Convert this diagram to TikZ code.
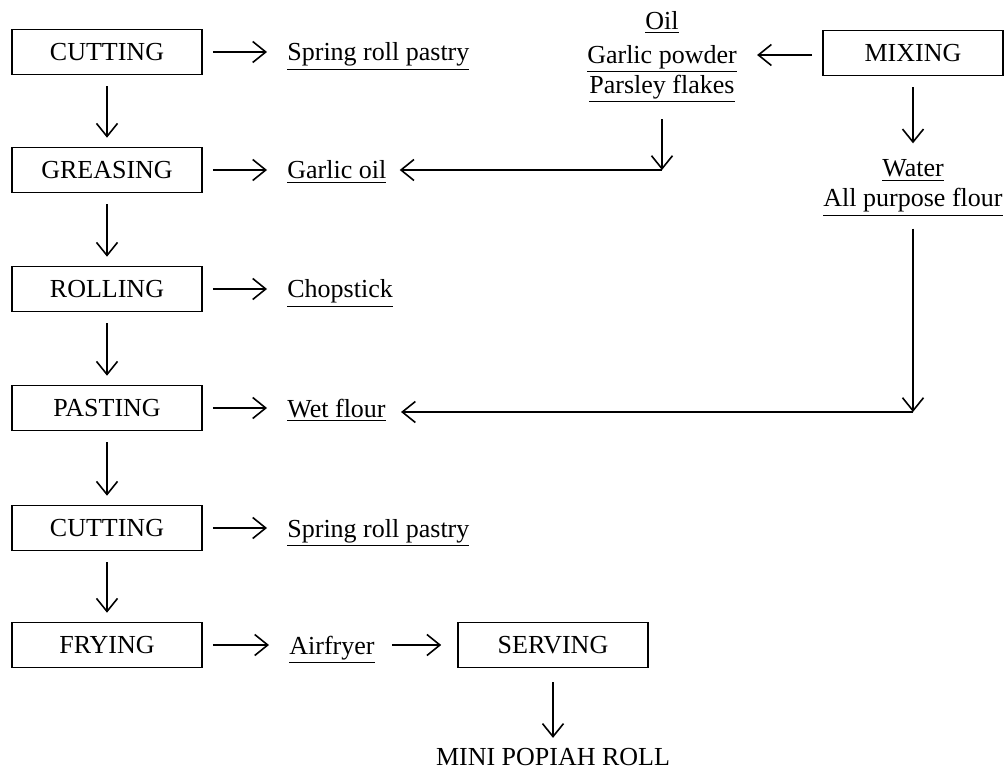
\documentclass[tikz,border=0pt]{standalone}
\usepackage{fontspec}
\setmainfont{Liberation Serif}
\usepackage{tikz}
\usetikzlibrary{arrows.meta}
\usetikzlibrary{positioning}

\tikzset{
	stage/.style = {draw, line width=0.8pt, minimum width=95pt, minimum height=22.5pt, inner sep=0pt},
	item/.style = {inner sep=0pt, align=center},
	flow/.style = {-{Straight Barb[length=6.5pt,width=10.5pt,line width=0.8pt]}, line width=0.8pt},
}

\begin{document}
\begin{tikzpicture}[x=0.5pt, y=-0.5pt, font=\fontsize{13}{15}\selectfont]
		\useasboundingbox (0,0) rectangle (1007,775);
		% main line
		\node[stage] (cut1) at (107,52) {CUTTING};
		\node[stage] (greas) at (107,170) {GREASING};
		\node[stage] (roll) at (107,289) {ROLLING};
		\node[stage] (paste) at (107,408) {PASTING};
		\node[stage] (cut2) at (107,528) {CUTTING};
		\node[stage] (fry) at (107,645) {FRYING};
		\node[stage] (serve) at (553,645) {SERVING};
		\node[item] (mini) at (553,757) {MINI POPIAH ROLL};
		% what goes in at each step
		\node[item, anchor=base west] (pastry1) at (287,61) {\underline{Spring roll pastry}};
		\node[item, anchor=base west] (goil) at (287,179) {\underline{Garlic oil}};
		\node[item, anchor=base west] (stick) at (287,298) {\underline{Chopstick}};
		\node[item, anchor=base west] (wflour) at (287,417) {\underline{Wet flour}};
		\node[item, anchor=base west] (pastry2) at (287,537) {\underline{Spring roll pastry}};
		\node[item, anchor=base west] (afry) at (289,654) {\underline{Airfryer}};
		% mixing
		\node[stage, minimum width=90pt] (mix) at (913,53) {MIXING};
		\node[item] (oil) at (662,57) {\underline{Oil}\\[2pt] \underline{Garlic powder}\\ \underline{Parsley flakes}};
		\node[item] (water) at (913,188) {\underline{Water}\\ \underline{All purpose flour}};
		\coordinate (gcorner) at (662,170);
		\coordinate (wcorner) at (913,412);

		\foreach \a/\b in {cut1/greas, greas/roll, roll/paste, paste/cut2, cut2/fry}
		{
			\draw[flow, shorten <=5.5pt, shorten >=4.5pt] (\a) -- (\b);
		}
		\foreach \a/\b in {cut1/pastry1, greas/goil, roll/stick, paste/wflour, cut2/pastry2, fry/afry}
		{
			\draw[flow, shorten <=5pt, shorten >=10pt] (\a) -- (\b.west |- \a);
		}
		\draw[flow, shorten <=8.5pt, shorten >=8pt] (afry.east |- serve) -- (serve);
		\draw[flow, shorten <=7pt, shorten >=5pt] (serve) -- (mini);

		\draw[flow, shorten <=5pt, shorten >=10pt] (mix.west |- 0,55) -- (oil.east |- 0,55);
		\draw[flow, shorten <=8pt] (oil) -- (gcorner);
		\draw[flow, shorten >=6.5pt] (gcorner) -- (goil.east |- gcorner);
		\draw[flow, shorten <=5.5pt, shorten >=8pt] (mix) -- (water);
		\draw[flow, shorten <=6pt] (water) -- (wcorner);
		\draw[flow, shorten >=7.5pt] (wcorner) -- (wflour.east |- wcorner);
	\end{tikzpicture}
\end{document}
